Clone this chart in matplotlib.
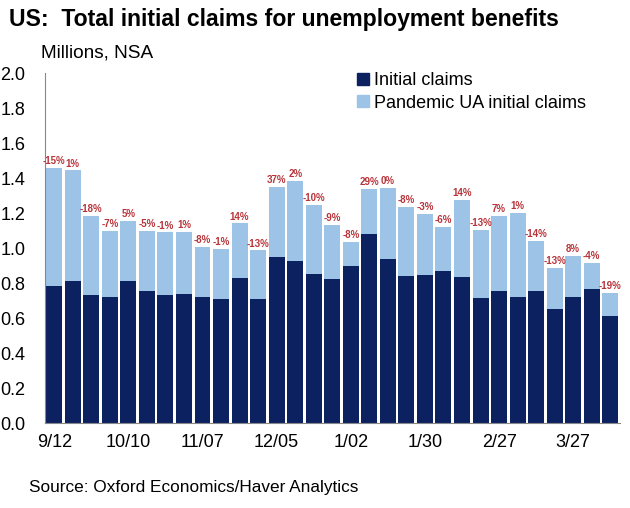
import matplotlib
matplotlib.use("Agg")
import matplotlib.pyplot as plt
from matplotlib.patches import Patch

plt.rcParams['font.family'] = ['Liberation Sans', 'DejaVu Sans']

weeks = ['9/12', '9/19', '9/26', '10/03', '10/10', '10/17', '10/24', '10/31',
         '11/07', '11/14', '11/21', '11/28', '12/05', '12/12', '12/19', '12/26',
         '1/02', '1/09', '1/16', '1/23', '1/30', '2/06', '2/13', '2/20',
         '2/27', '3/06', '3/13', '3/20', '3/27', '4/03', '4/10']
initial_claims = [0.786, 0.815, 0.735, 0.722, 0.815, 0.758, 0.735, 0.737, 0.722, 0.708,
                  0.828, 0.708, 0.948, 0.925, 0.853, 0.826, 0.900, 1.083, 0.940, 0.843,
                  0.849, 0.872, 0.838, 0.716, 0.754, 0.722, 0.758, 0.651, 0.722, 0.765, 0.610]
pua_claims = [0.673, 0.632, 0.450, 0.378, 0.342, 0.342, 0.355, 0.358, 0.287, 0.290,
              0.316, 0.282, 0.404, 0.460, 0.395, 0.308, 0.138, 0.257, 0.406, 0.393,
              0.348, 0.251, 0.438, 0.389, 0.431, 0.480, 0.285, 0.238, 0.235, 0.152, 0.136]
pct_labels = ['-15%', '1%', '-18%', '-7%', '5%', '-5%', '-1%', '1%', '-8%', '-1%',
              '14%', '-13%', '37%', '2%', '-10%', '-9%', '-8%', '29%', '0%', '-8%',
              '-3%', '-6%', '14%', '-13%', '7%', '1%', '-14%', '-13%', '8%', '-4%', '-19%']
tick_labels = ['9/12', '10/10', '11/07', '12/05', '1/02', '1/30', '2/27', '3/27']

dark = '#0b2160'
light = '#9dc3e6'
red = '#b8343a'

fig = plt.figure(figsize=(6.3, 5.08), dpi=100)
ax = fig.add_axes([0.0714, 0.167, 0.912, 0.689])

x = list(range(len(weeks)))
ax.bar(x, initial_claims, width=0.86, color=dark, zorder=2)
ax.bar(x, pua_claims, width=0.86, bottom=initial_claims, color=light, zorder=2)

for i, lab in enumerate(pct_labels):
    ax.text(i, initial_claims[i] + pua_claims[i] + 0.008, lab, ha='center', va='bottom',
            fontsize=7, fontweight='bold', color=red)

ax.set_xlim(-0.5, len(weeks) - 0.5)
ax.set_ylim(0, 2.0)
ax.set_yticks([i / 10 for i in range(0, 21, 2)])
ax.set_yticklabels([f'{i / 10:.1f}' for i in range(0, 21, 2)], fontsize=13)
tick_pos = [weeks.index(t) for t in tick_labels]
ax.set_xticks(tick_pos)
ax.set_xticklabels(tick_labels, fontsize=13)
ax.tick_params(axis='both', length=0)
ax.tick_params(axis='y', pad=14)
ax.tick_params(axis='x', pad=8)

for s in ['top', 'right']:
    ax.spines[s].set_visible(False)
ax.spines['left'].set_color('#888888')
ax.spines['bottom'].set_color('#888888')
ax.spines['left'].set_linewidth(0.8)
ax.spines['bottom'].set_linewidth(0.8)

handles = [Patch(color=dark, label='Initial claims'),
           Patch(color=light, label='Pandemic UA initial claims')]
fig.legend(handles=handles, loc='upper left', bbox_to_anchor=(0.555, 0.872),
           frameon=False, fontsize=13, handlelength=0.65, handleheight=0.65,
           handletextpad=0.3, labelspacing=0.3, borderaxespad=0)

fig.text(0.014, 0.985, 'US:  Total initial claims for unemployment benefits',
         fontsize=16.6, fontweight='bold', ha='left', va='top')
fig.text(0.065, 0.895, 'Millions, NSA', fontsize=13.7, ha='left', va='center')
fig.text(0.046, 0.04, 'Source: Oxford Economics/Haver Analytics', fontsize=12.4,
         ha='left', va='center')

fig.savefig('out.png', dpi=100)
